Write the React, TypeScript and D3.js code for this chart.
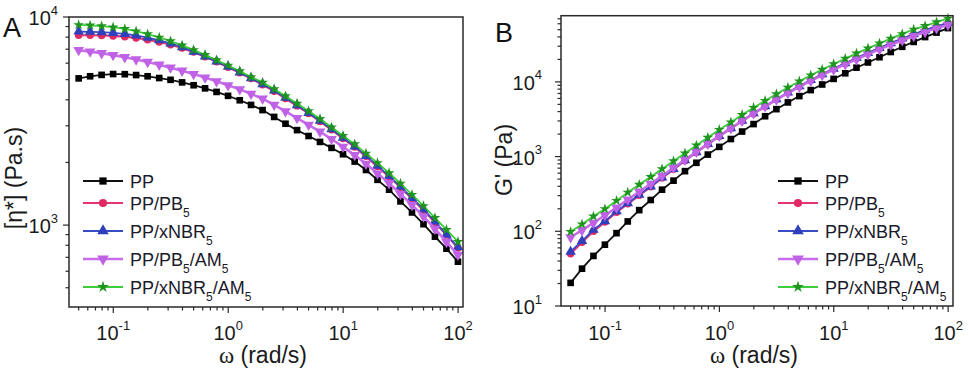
import React from "react";
import * as d3 from "d3";

// angular frequency (rad/s), 10 points per decade
const omega = [
  0.05, 0.0629, 0.0792, 0.0997, 0.126, 0.158, 0.199, 0.251, 0.315, 0.397,
  0.5, 0.629, 0.792, 0.997, 1.26, 1.58, 1.99, 2.51, 3.15, 3.97,
  5.0, 6.29, 7.92, 9.97, 12.6, 15.8, 19.9, 25.1, 31.5, 39.7,
  50.0, 62.9, 79.2, 99.7,
];

// complex viscosity |eta*| (Pa.s)
const etaPP = [
  5070, 5190, 5270, 5320, 5310, 5260, 5190, 5090, 4990, 4850,
  4700, 4540, 4365, 4180, 3980, 3780, 3570, 3310, 3070, 2860,
  2680, 2510, 2350, 2190, 2020, 1840, 1650, 1480, 1300, 1150,
  1010, 880, 770, 667,
];
const etaPB = [
  8170, 8170, 8150, 8110, 8040, 7930, 7780, 7590, 7360, 7100,
  6780, 6440, 6100, 5740, 5400, 5060, 4730, 4400, 4060, 3740,
  3440, 3150, 2870, 2610, 2370, 2140, 1910, 1710, 1520, 1340,
  1180, 1030, 895, 776,
];
const etaXNBR = [
  8510, 8490, 8450, 8390, 8300, 8150, 7960, 7730, 7460, 7160,
  6820, 6470, 6120, 5770, 5420, 5080, 4760, 4430, 4090, 3770,
  3460, 3170, 2890, 2630, 2390, 2150, 1930, 1720, 1530, 1350,
  1190, 1040, 900, 782,
];
const etaPBAM = [
  6930, 6820, 6700, 6560, 6410, 6250, 6080, 5900, 5710, 5520,
  5320, 5120, 4910, 4700, 4490, 4270, 4050, 3780, 3520, 3270,
  3030, 2810, 2590, 2380, 2170, 1970, 1770, 1590, 1410, 1250,
  1100, 960, 830, 720,
];
const etaXNBRAM = [
  9160, 9120, 9040, 8930, 8770, 8550, 8280, 7980, 7660, 7310,
  6950, 6580, 6210, 5850, 5500, 5150, 4850, 4510, 4170, 3840,
  3530, 3240, 2950, 2690, 2450, 2210, 1990, 1780, 1585, 1400,
  1236, 1084, 950, 832,
];

// storage modulus G' (Pa)
const gPP = [
  20.4, 31.6, 46.8, 66.2, 94.4, 135.5, 191.9, 262.4, 360.6, 476.4,
  638.3, 826, 1064, 1349, 1718, 2163, 2723, 3467, 4315, 5309,
  6457, 7762, 9226, 10965, 13032, 15488, 18197, 21380, 25119, 29512,
  34277, 39811, 45709, 52481,
];
const gPB = [
  50.1, 71.6, 100, 133.4, 179.9, 233.3, 303.4, 393.6, 518.8, 676.1,
  881, 1135, 1462, 1862, 2371, 2985, 3758, 4677, 5794, 7129,
  8670, 10471, 12531, 14894, 17579, 20654, 24155, 28119, 32584, 37584,
  42954, 48641, 54575, 60954,
];
const gXNBR = [
  53.3, 74.1, 104.7, 136.5, 185.4, 237.1, 309, 398.1, 524.8, 683.9,
  891.3, 1148, 1479, 1884, 2399, 3020, 3802, 4732, 5861, 7211,
  8770, 10593, 12677, 15066, 17783, 20893, 24434, 28445, 32961, 38019,
  43451, 49204, 55208, 61660,
];
const gPBAM = [
  83.2, 103.5, 129.4, 164.1, 208, 266.1, 338.8, 431.5, 552.1, 707.9,
  907.8, 1161, 1486, 1892, 2399, 3020, 3784, 4699, 5794, 7079,
  8570, 10304, 12303, 14588, 17179, 20090, 23442, 27227, 31405, 36058,
  41115, 46559, 52240, 58210,
];
const gXNBRAM = [
  98.9, 124.5, 158.5, 199.5, 257, 331.1, 421.7, 537, 683.9, 871,
  1109, 1413, 1799, 2291, 2884, 3631, 4519, 5598, 6887, 8414,
  10186, 12246, 14622, 17378, 20512, 24099, 28184, 32810, 38019, 43853,
  50350, 56234, 63096, 70795,
];

const seriesNames = ["PP", "PP/PB_5", "PP/xNBR_5", "PP/PB_5/AM_5", "PP/xNBR_5/AM_5"];
const xTickExp = [-1, 0, 1, 2];
const yTickExpA = [3, 4];
const yTickExpB = [1, 2, 3, 4];

const lineColors = ["#111111", "#e8356f", "#3a4bc6", "#c76ceb", "#3ccc3c"];
const markColors = ["#000000", "#e02a64", "#3040bc", "#c062e6", "#1f951f"];
const markShapes = [d3.symbolSquare, d3.symbolCircle, d3.symbolTriangle, d3.symbolTriangle, d3.symbolStar];
const markSizes = [44, 44, 48, 50, 36];
const markRotate = [0, 0, 0, 180, 0];
const lineWidths = [1.8, 2.2, 1.8, 2.6, 1.8];

const FONT = "'Liberation Sans', Arial, Helvetica, sans-serif";
const legendRows = [181, 203, 231, 259, 287];

// "_5" in a name means a subscript 5
const LegendText = ({ x, y, name }: { x: number; y: number; name: string }) => {
  const parts = name.split(/_(\d)/);
  const spans: any[] = [];
  let shifted = false;
  parts.forEach((p, i) => {
    if (p === "") return;
    if (i % 2 === 1) {
      spans.push(<tspan key={i} dy={7} fontSize={12}>{p}</tspan>);
      shifted = true;
    } else {
      spans.push(<tspan key={i} dy={shifted ? -7 : 0}>{p}</tspan>);
      shifted = false;
    }
  });
  return (
    <text x={x} y={y} fontSize={18} fontFamily={FONT} fill="#1a1a2a">{spans}</text>
  );
};

type PanelProps = {
  frame: { left: number; top: number; right: number; bottom: number };
  yDomain: [number, number];
  ys: number[][];
  yTickExp: number[];
  yLabelGap: number;
  label: string;
  labelX: number;
  labelY: number;
  yTitle: string;
  yTitleX: number;
  yTitleY: number;
  legendX: number;
};

const Panel = (p: PanelProps) => {
  const { left, top, right, bottom } = p.frame;
  const x = d3.scaleLog().domain([0.0412, 110.3]).range([left, right]);
  const y = d3.scaleLog().domain(p.yDomain).range([bottom, top]);

  const ticksOf = (d0: number, d1: number) => {
    const out: { v: number; major: boolean }[] = [];
    for (let k = Math.floor(Math.log10(d0)); k <= Math.ceil(Math.log10(d1)); k++) {
      for (let m = 1; m <= 9; m++) {
        const v = m * Math.pow(10, k);
        if (v >= d0 * 0.9999 && v <= d1 * 1.0001) out.push({ v, major: m === 1 });
      }
    }
    return out;
  };
  const xTicks = ticksOf(0.0412, 110.3);
  const yTicks = ticksOf(p.yDomain[0], p.yDomain[1]);

  const line = d3.line<number>().x((_, i) => x(omega[i])).y((d) => y(d));

  return (
    <g>
      {p.ys.map((s, si) => (
        <g key={si}>
          <path d={line(s) || ""} fill="none" stroke={lineColors[si]} strokeWidth={lineWidths[si]} />
          {s.map((v, i) => (
            <path
              key={i}
              d={d3.symbol().type(markShapes[si]).size(markSizes[si])() || ""}
              transform={`translate(${x(omega[i])},${y(v)}) rotate(${markRotate[si]})`}
              fill={markColors[si]}
            />
          ))}
        </g>
      ))}
      <rect x={left} y={top} width={right - left} height={bottom - top} fill="none" stroke="#2a2a2a" strokeWidth={1.5} />
      {xTicks.map((t, i) => (
        <line key={i} x1={x(t.v)} x2={x(t.v)} y1={bottom} y2={bottom + (t.major ? 6 : 3.5)} stroke="#2a2a2a" strokeWidth={1.2} />
      ))}
      {yTicks.map((t, i) => (
        <line key={i} x1={left} x2={left - (t.major ? 6 : 3.5)} y1={y(t.v)} y2={y(t.v)} stroke="#2a2a2a" strokeWidth={1.2} />
      ))}
      {xTickExp.map((e) => (
        <text key={e} x={x(Math.pow(10, e))} y={340} textAnchor="middle" fontSize={20} fontFamily={FONT} fill="#1a1a1a">
          10<tspan dy={-10.5} fontSize={13}>{e}</tspan>
        </text>
      ))}
      {p.yTickExp.map((e) => (
        <text key={e} x={left - p.yLabelGap} y={y(Math.pow(10, e)) + 8} textAnchor="end" fontSize={20} fontFamily={FONT} fill="#1a1a1a">
          10<tspan dy={-10.5} fontSize={13}>{e}</tspan>
        </text>
      ))}
      <text x={(left + right) / 2 - 3} y={363} textAnchor="middle" fontSize={23} fontFamily={FONT} fill="#1a1a1a">
        <tspan fontFamily="'Liberation Serif', 'Times New Roman', serif">ω</tspan> (rad/s)
      </text>
      <text
        transform={`translate(${p.yTitleX},${p.yTitleY}) rotate(-90)`}
        textAnchor="middle"
        fontSize={23}
        fontFamily={FONT}
        fill="#1a1a1a"
      >
        {p.yTitle}
      </text>
      <text x={p.labelX} y={p.labelY} fontSize={27} fontFamily={FONT} fill="#111">{p.label}</text>
      {seriesNames.map((n, si) => (
        <g key={n}>
          <line x1={p.legendX} x2={p.legendX + 40} y1={legendRows[si]} y2={legendRows[si]} stroke={lineColors[si]} strokeWidth={lineWidths[si]} />
          <path
            d={d3.symbol().type(markShapes[si]).size(markSizes[si] * 1.2)() || ""}
            transform={`translate(${p.legendX + 20},${legendRows[si]}) rotate(${markRotate[si]})`}
            fill={markColors[si]}
          />
          <LegendText x={p.legendX + 47} y={legendRows[si] + 6.5} name={n} />
        </g>
      ))}
    </g>
  );
};

const App = () => {
  return (
    <svg width={969} height={372} style={{ position: "absolute", left: 0, top: 0, background: "#fff" }}>
      <rect width={969} height={372} fill="#fff" />
      <Panel
        frame={{ left: 69, top: 17, right: 463, bottom: 307 }}
        yDomain={[404, 10000]}
        ys={[etaPP, etaPB, etaXNBR, etaPBAM, etaXNBRAM]}
        yTickExp={yTickExpA}
        yLabelGap={11}
        label="A"
        labelX={3}
        labelY={37}
        yTitle="[η*] (Pa.s)"
        yTitleX={22}
        yTitleY={178}
        legendX={83}
      />
      <Panel
        frame={{ left: 561, top: 15.7, right: 953, bottom: 306 }}
        yDomain={[10, 76900]}
        ys={[gPP, gPB, gXNBR, gPBAM, gXNBRAM]}
        yTickExp={yTickExpB}
        yLabelGap={19}
        label="B"
        labelX={495}
        labelY={42}
        yTitle="G' (Pa)"
        yTitleX={512}
        yTitleY={160}
        legendX={778}
      />
    </svg>
  );
};

export default App;
